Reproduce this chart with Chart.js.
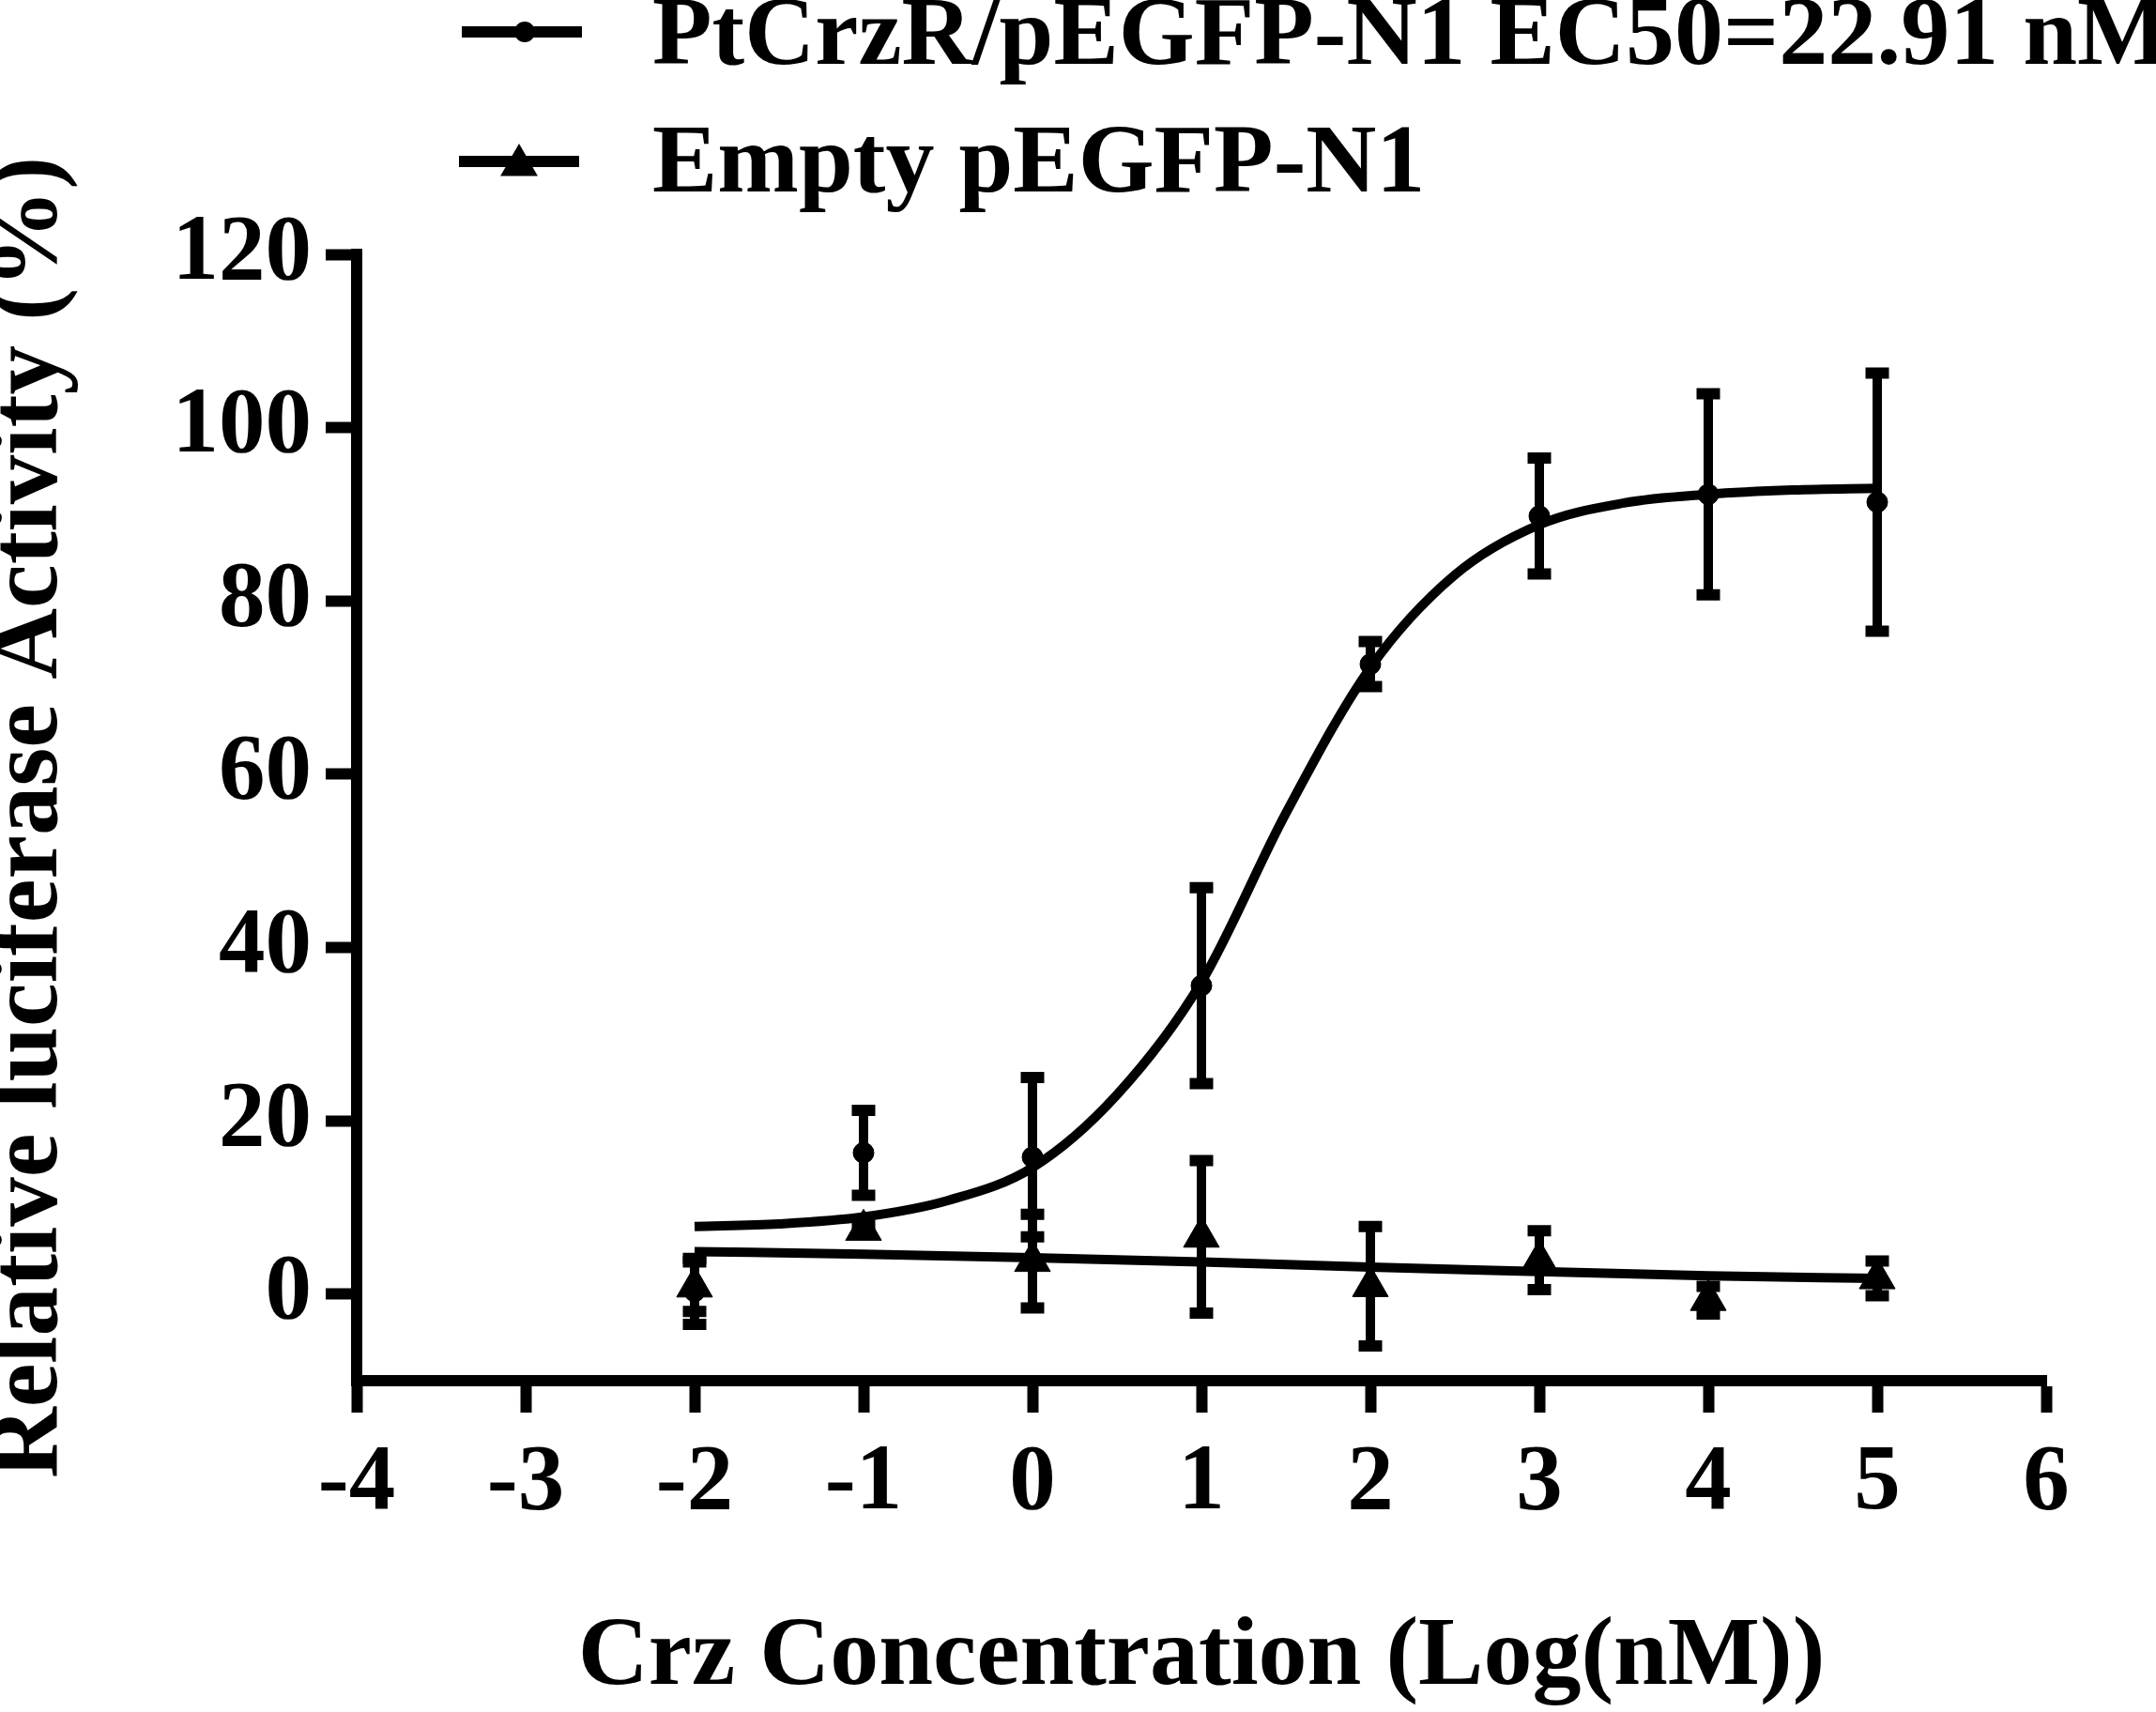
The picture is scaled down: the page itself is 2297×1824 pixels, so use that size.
<!DOCTYPE html>
<html><head><meta charset="utf-8">
<script src="https://cdn.jsdelivr.net/npm/chart.js@4.4.0/dist/chart.umd.min.js"></script>
<style>html,body{margin:0;padding:0;background:#fff;}#wrap{width:2297px;height:1824px;}</style>
</head><body><div id="wrap"><canvas id="c" width="2297" height="1824"></canvas></div>
<script>
const seriesNames = ['PtCrzR/pEGFP-N1 EC50=22.91 nM', 'Empty pEGFP-N1'];
const xTitle = 'Crz Concentration (Log(nM))';
const yTitle = 'Relative luciferase Activity (%)';
const doses = [-2, -1, 0, 1, 2, 3, 4, 5];
const ptMean = [0.3, 16.3, 15.8, 35.6, 72.7, 89.8, 92.3, 91.4];
const ptErr = [3.8, 4.9, 9.2, 11.3, 2.6, 6.7, 11.6, 14.9];
const emptyMean = [0.85, 7.4, 3.8, 6.6, 0.9, 3.9, -0.7, 1.8];
const emptyErr = [2.85, 0.5, 5.4, 8.8, 6.9, 3.4, 1.6, 2.0];
const ptFitX = [-2, -1.5, -1, -0.5, 0, 0.5, 1, 1.5, 2, 2.5, 3, 3.5, 4, 4.5, 5];
const ptFitY = [7.8, 8.1, 8.9, 10.8, 14.6, 23.0, 36.0, 55.5, 72.3, 83.0, 88.8, 91.3, 92.3, 92.8, 93.0];
const emptyFitX = [-2, -1, 0, 1, 2, 3, 4, 5];
const emptyFitY = [4.9, 4.6, 4.2, 3.7, 3.1, 2.6, 2.1, 1.8];
const xTicks = [-4, -3, -2, -1, 0, 1, 2, 3, 4, 5, 6];
const yTicks = [0, 20, 40, 60, 80, 100, 120];

const FAMILY = "'Liberation Serif', 'Times New Roman', serif";
const pts = (xs, ys) => xs.map((v, i) => ({x: v, y: ys[i]}));

const errPlugin = {
  id: 'errBars',
  beforeDatasetsDraw(chart) {
    const {ctx} = chart;
    const xs = chart.scales.x, ys = chart.scales.y;
    ctx.save();
    ctx.strokeStyle = '#000';
    ctx.lineCap = 'butt';
    [[ptMean, ptErr], [emptyMean, emptyErr]].forEach(([m, e]) => {
      doses.forEach((d, i) => {
        const px = xs.getPixelForValue(d);
        const top = ys.getPixelForValue(m[i] + e[i]);
        const bot = ys.getPixelForValue(m[i] - e[i]);
        ctx.lineWidth = 10;
        ctx.beginPath(); ctx.moveTo(px, top); ctx.lineTo(px, bot); ctx.stroke();
        ctx.lineWidth = 12;
        ctx.beginPath();
        ctx.moveTo(px - 12.5, top); ctx.lineTo(px + 12.5, top);
        ctx.moveTo(px - 12.5, bot); ctx.lineTo(px + 12.5, bot);
        ctx.stroke();
      });
    });
    ctx.restore();
  }
};

const legendPlugin = {
  id: 'refLegend',
  afterDraw(chart) {
    const ctx = chart.ctx;
    ctx.save();
    ctx.fillStyle = '#000';
    ctx.strokeStyle = '#000';
    ctx.lineWidth = 12;
    ctx.lineCap = 'butt';
    ctx.beginPath(); ctx.moveTo(492, 34); ctx.lineTo(620, 34); ctx.stroke();
    ctx.beginPath(); ctx.arc(559, 34, 11, 0, Math.PI * 2); ctx.fill();
    ctx.beginPath(); ctx.moveTo(489, 172); ctx.lineTo(617, 172); ctx.stroke();
    const r = 23, cx = 553, cy = 176;
    ctx.beginPath();
    for (let k = 0; k < 3; k++) {
      const a = k * 2 * Math.PI / 3;
      const px = cx + Math.sin(a) * r, py = cy - Math.cos(a) * r;
      if (k === 0) ctx.moveTo(px, py); else ctx.lineTo(px, py);
    }
    ctx.closePath(); ctx.fill();
    ctx.font = "bold 104px " + FAMILY;
    ctx.textBaseline = 'alphabetic';
    ctx.textAlign = 'left';
    ctx.fillText(seriesNames[0], 695, 68);
    ctx.fillText(seriesNames[1], 695, 204);
    ctx.restore();
  }
};

new Chart(document.getElementById('c'), {
  type: 'scatter',
  data: {
    datasets: [
      {label: seriesNames[1], data: pts(doses, emptyMean), showLine: false, pointStyle: 'triangle',
       pointRadius: 22, backgroundColor: '#000', borderColor: '#000', borderWidth: 1, order: 0, clip: false},
      {label: seriesNames[0], data: pts(doses, ptMean), showLine: false, pointStyle: 'circle',
       pointRadius: 11, backgroundColor: '#000', borderColor: '#000', borderWidth: 1, order: 1, clip: false},
      {label: 'fit1', data: pts(ptFitX, ptFitY), showLine: true, pointRadius: 0, borderColor: '#000',
       borderWidth: 10, cubicInterpolationMode: 'monotone', fill: false, order: 2, clip: false},
      {label: 'fit2', data: pts(emptyFitX, emptyFitY), showLine: true, pointRadius: 0, borderColor: '#000',
       borderWidth: 10, cubicInterpolationMode: 'monotone', fill: false, order: 3, clip: false}
    ]
  },
  options: {
    responsive: false,
    devicePixelRatio: 1,
    animation: false,
    events: [],
    layout: {padding: {top: 271, right: 117, left: 0, bottom: 0}},
    plugins: {legend: {display: false}, tooltip: {enabled: false}},
    scales: {
      x: {
        type: 'linear', min: -4, max: 6,
        afterBuildTicks: s => { s.ticks = xTicks.map(v => ({value: v})); },
        afterFit: s => { s.height = 353; },
        border: {display: true, color: '#000', width: 12},
        grid: {display: true, drawOnChartArea: false, drawTicks: true, tickLength: 34, tickWidth: 12, tickColor: '#000', color: '#000'},
        ticks: {color: '#000', padding: 27, maxRotation: 0, autoSkip: false, callback: v => String(v),
                font: {family: FAMILY, size: 99, weight: 'bold', lineHeight: 1}},
        title: {display: true, text: xTitle, color: '#000', padding: 0,
                font: {family: FAMILY, size: 104, weight: 'bold', lineHeight: 1.1}}
      },
      y: {
        type: 'linear', min: -10, max: 120,
        afterBuildTicks: s => { s.ticks = yTicks.map(v => ({value: v})); },
        afterFit: s => { s.width = 380; },
        border: {display: true, color: '#000', width: 12},
        grid: {display: true, drawOnChartArea: false, drawTicks: true, tickLength: 33, tickWidth: 12, tickColor: '#000', color: '#000'},
        ticks: {color: '#000', padding: 15, autoSkip: false, callback: v => String(v),
                font: {family: FAMILY, size: 99, weight: 'bold', lineHeight: 1}},
        title: {display: true, text: yTitle, color: '#000', padding: 0,
                font: {family: FAMILY, size: 105, weight: 'bold', lineHeight: 0.62}}
      }
    }
  },
  plugins: [errPlugin, legendPlugin]
});
</script>
</body></html>
